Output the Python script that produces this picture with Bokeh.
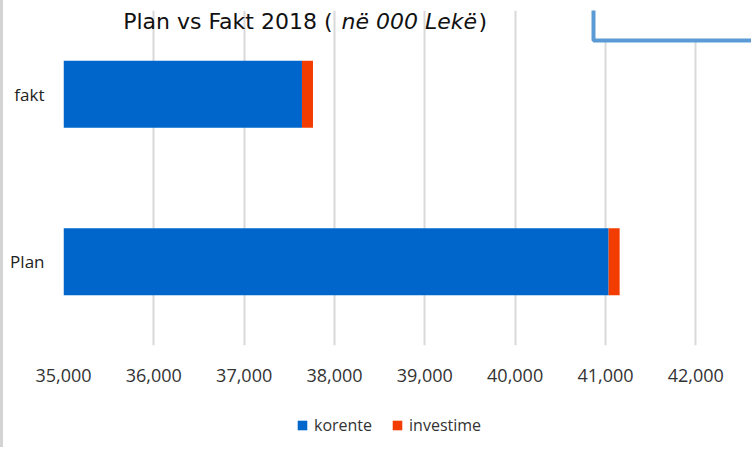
from bokeh.plotting import figure
from bokeh.layouts import column
from bokeh.models import (FactorRange, Range1d, FixedTicker, NumeralTickFormatter,
                          Label, BoxAnnotation, Legend, LegendItem, ColumnDataSource)
from bokeh.embed import file_html
from bokeh.resources import INLINE

# ---- data ----
categories = ["Plan", "fakt"]
korente = [41035, 37640]
investime = [122, 122]
series = ["korente", "investime"]
colors = ["#0066CC", "#F23C00"]
x_ticks = [35000, 36000, 37000, 38000, 39000, 40000, 41000, 42000]
title_main = "Plan vs Fakt  2018 ("
title_italic = "në 000 Lekë"
title_end = ")"

source = ColumnDataSource(dict(cat=categories, korente=korente, investime=investime))

FONT = "Open Sans"
TFONT = "DejaVu Sans"
BORDER = {"border-left": "3px solid #D4D4D4"}

# ---------------- main chart ----------------
p = figure(width=751, height=400,
           y_range=FactorRange(factors=categories),
           x_range=Range1d(35000, 42650),
           output_backend="svg", toolbar_location=None,
           min_border_left=60, min_border_right=0,
           min_border_top=10, min_border_bottom=55)
p.styles = BORDER

p.hbar_stack(series, y="cat", height=0.4, color=colors, line_color=None, source=source)

p.outline_line_color = None
p.background_fill_color = "white"
p.border_fill_color = "white"

p.xaxis.ticker = FixedTicker(ticks=x_ticks)
p.xaxis.formatter = NumeralTickFormatter(format="0,0")
p.xaxis.axis_line_color = None
p.xaxis.major_tick_line_color = None
p.xaxis.minor_tick_line_color = None
p.xaxis.major_tick_in = 0
p.xaxis.major_tick_out = 0
p.xaxis.major_label_standoff = 23
p.xaxis.major_label_text_font = FONT
p.xaxis.major_label_text_font_size = "18px"
p.xaxis.major_label_text_color = "#333333"

p.yaxis.axis_line_color = None
p.yaxis.major_tick_line_color = None
p.yaxis.minor_tick_line_color = None
p.yaxis.major_tick_in = 0
p.yaxis.major_tick_out = 0
p.yaxis.major_label_standoff = 19
p.yaxis.major_label_text_font = FONT
p.yaxis.major_label_text_font_size = "17px"
p.yaxis.major_label_text_color = "#222222"

p.xgrid.ticker = FixedTicker(ticks=x_ticks)
p.xgrid.grid_line_color = "#D9D9D9"
p.xgrid.grid_line_width = 2
p.ygrid.grid_line_color = None

# title (overlapping top of plot area)
p.add_layout(Label(x=276, y=324, x_units="screen", y_units="screen", text=title_main,
                   text_font=TFONT, text_font_size="22px",
                   text_color="#111111", text_baseline="alphabetic", text_align="right"))
p.add_layout(Label(x=278, y=324, x_units="screen", y_units="screen", text=title_italic,
                   text_font=TFONT, text_font_size="22px", text_font_style="italic",
                   text_color="#111111", text_baseline="alphabetic", text_align="left"))
p.add_layout(Label(x=415, y=324, x_units="screen", y_units="screen", text=title_end,
                   text_font=TFONT, text_font_size="22px",
                   text_color="#111111", text_baseline="alphabetic", text_align="left"))

# box at top right
p.add_layout(BoxAnnotation(left=530, right=2000, bottom=305, top=2000,
                           left_units="screen", right_units="screen",
                           bottom_units="screen", top_units="screen",
                           fill_color="white", fill_alpha=1,
                           line_color="#5B9BD5", line_alpha=1, line_width=4))

# ---------------- legend strip ----------------
p2 = figure(width=751, height=47,
            y_range=FactorRange(factors=categories),
            x_range=Range1d(-2, -1),
            x_axis_location=None, y_axis_location=None,
            output_backend="svg", toolbar_location=None,
            min_border_left=0, min_border_right=0,
            min_border_top=0, min_border_bottom=0)
p2.styles = BORDER
p2.outline_line_color = None
p2.xgrid.visible = False
p2.ygrid.visible = False
leg_renderers = p2.hbar_stack(series, y="cat", height=0.4, color=colors,
                              line_color=None, source=source)
legend = Legend(items=[LegendItem(label=s, renderers=[r]) for s, r in zip(series, leg_renderers)],
                orientation="horizontal", location=(233, 11),
                label_text_font=FONT, label_text_font_size="16px",
                label_text_color="#333333",
                glyph_width=12, glyph_height=12, label_standoff=6, spacing=19,
                label_height=12, padding=0, margin=0,
                border_line_color=None, background_fill_alpha=0)
p2.add_layout(legend)

layout = column(p, p2, spacing=0)
open("out.html", "w").write(file_html(layout, INLINE))
